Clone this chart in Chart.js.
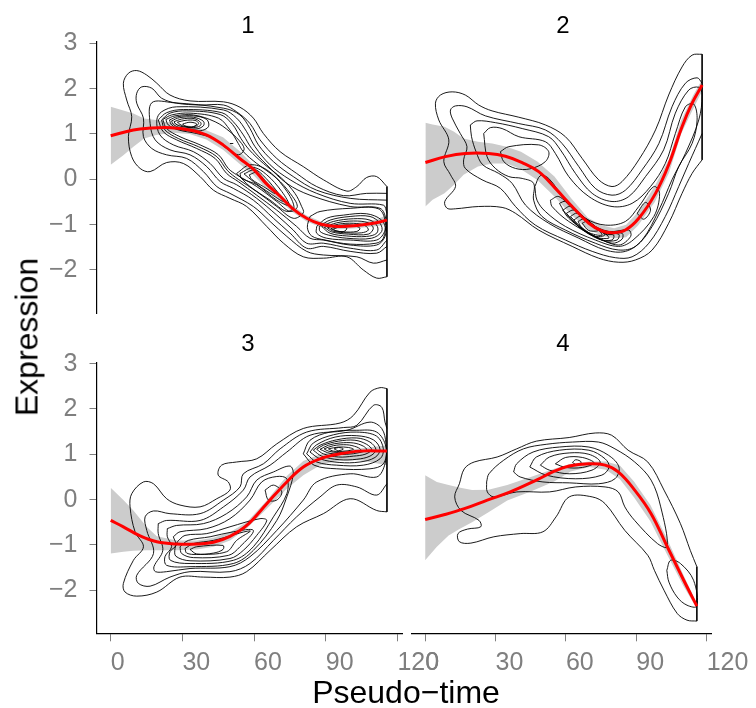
<!DOCTYPE html>
<html>
<head>
<meta charset="utf-8">
<script src="https://cdn.jsdelivr.net/npm/chart.js@4/dist/chart.umd.min.js"></script>
<style>
    html, body { margin: 0; padding: 0; background: #fff; }
    #page { position: relative; width: 756px; height: 708px; overflow: hidden; font-family: "Liberation Sans", sans-serif; }
    canvas { position: absolute; left: 0; top: 0; }
    .lbl { position: absolute; color: #000; white-space: nowrap; transform: translate(-50%, -50%); }
</style>
</head>
<body>
<div id="page">
    <canvas id="p1" width="756" height="708"></canvas>
    <canvas id="p2" width="756" height="708"></canvas>
    <canvas id="p3" width="756" height="708"></canvas>
    <canvas id="p4" width="756" height="708"></canvas>
    <div class="lbl" style="left:248px;top:25px;font-size:24px">1</div>
    <div class="lbl" style="left:563px;top:25px;font-size:24px">2</div>
    <div class="lbl" style="left:248px;top:343px;font-size:24px">3</div>
    <div class="lbl" style="left:563px;top:343px;font-size:24px">4</div>
    <div class="lbl" style="left:27px;top:337px;font-size:32px;transform:translate(-50%,-50%) rotate(-90deg)">Expression</div>
    <div class="lbl" style="left:406px;top:692px;font-size:32px">Pseudo−time</div>
</div>
<script>
const xTicks = [0, 30, 60, 90, 120];
const yTicks = [-2, -1, 0, 1, 2, 3];

// fitted curves
const curveX1 = [0, 9.5, 16.5, 25, 33, 40, 47, 54, 60, 65, 71, 76, 82, 88, 95, 103, 110, 115.6];
const curveY1 = [0.96, 1.09, 1.13, 1.14, 1.09, 0.98, 0.76, 0.46, 0.21, -0.09, -0.38, -0.64, -0.86, -0.99, -1.04, -1.02, -0.97, -0.9];
const curveX2 = [0, 8.4, 16.7, 26.5, 33.5, 40.5, 47.4, 54.4, 61.4, 68.4, 73.9, 78.8, 83.7, 89.3, 96.3, 101.8, 107.4, 111.6, 115.8];
const curveY2 = [0.37, 0.5, 0.57, 0.57, 0.51, 0.37, 0.17, -0.2, -0.6, -0.97, -1.14, -1.18, -1.12, -0.86, -0.31, 0.32, 1.16, 1.68, 2.08];
const curveX3 = [0, 5.3, 12.3, 19.3, 27.6, 36, 43, 49.9, 56.9, 65.3, 73.7, 80.6, 87.6, 96, 104.3, 115.6];
const curveY3 = [-0.46, -0.6, -0.8, -0.93, -0.98, -0.98, -0.94, -0.81, -0.57, -0.09, 0.39, 0.72, 0.9, 1.01, 1.07, 1.07];
const curveX4 = [0, 8.4, 16.7, 26.5, 36.3, 47.4, 54.4, 61.4, 69.8, 76.7, 82.3, 89.3, 96.3, 103.2, 110.2, 115.8];
const curveY4 = [-0.44, -0.33, -0.2, -0.01, 0.17, 0.43, 0.61, 0.74, 0.79, 0.76, 0.61, 0.21, -0.31, -1.04, -1.78, -2.35];

// confidence bands
const bandX1 = [0, 5.3, 9.5, 14, 19, 26, 33, 40, 47, 54, 60, 65, 71, 76, 82, 88, 95, 103, 110, 115.6];
const bandUpper1 = [1.6, 1.52, 1.45, 1.34, 1.31, 1.24, 1.18, 1.08, 0.93, 0.62, 0.3, -0.02, -0.32, -0.58, -0.8, -0.93, -1, -0.96, -0.9, -0.8];
const bandLower1 = [0.32, 0.53, 0.72, 0.9, 0.98, 1.03, 1, 0.88, 0.65, 0.34, 0.08, -0.2, -0.48, -0.72, -0.93, -1.06, -1.1, -1.08, -1.04, -1];
const bandX2 = [0, 3, 8, 12, 16, 22, 28, 34, 40, 47, 54, 61, 68, 74, 79, 84, 89, 96, 102, 107, 112, 115.8];
const bandUpper2 = [1.25, 1.21, 1.16, 1.05, 0.9, 0.83, 0.79, 0.72, 0.61, 0.39, 0.06, -0.42, -0.85, -1.02, -1.08, -1, -0.72, -0.15, 0.45, 1.3, 1.85, 2.2];
const bandLower2 = [-0.6, -0.45, -0.31, -0.12, 0.1, 0.28, 0.35, 0.35, 0.22, -0.02, -0.38, -0.78, -1.1, -1.25, -1.3, -1.28, -1.02, -0.5, 0.15, 1, 1.55, 1.95];
const bandX3 = [0, 5.3, 9.5, 15, 19.3, 27.6, 36, 43, 49.9, 56.9, 65.3, 73.7, 80.6, 87.6, 96, 104.3, 115.6];
const bandUpper3 = [0.26, -0.01, -0.24, -0.6, -0.81, -0.9, -0.9, -0.84, -0.72, -0.5, -0.02, 0.52, 0.85, 1, 1.08, 1.13, 1.2];
const bandLower3 = [-1.19, -1.15, -1.13, -1.12, -1.12, -1.12, -1.1, -1.04, -0.9, -0.64, -0.2, 0.24, 0.54, 0.76, 0.87, 0.87, 0.76];
const bandX4 = [0, 5, 10, 15, 20, 27, 35, 45, 55, 62, 70, 77, 83, 89, 96, 103, 110, 115.8];
const bandUpper4 = [0.54, 0.39, 0.32, 0.26, 0.21, 0.22, 0.32, 0.5, 0.68, 0.79, 0.84, 0.84, 0.75, 0.4, -0.12, -0.85, -1.65, -2.3];
const bandLower4 = [-1.34, -1.04, -0.79, -0.64, -0.5, -0.28, -0.02, 0.18, 0.4, 0.62, 0.72, 0.66, 0.45, 0.05, -0.48, -1.2, -1.9, -2.4];

// density contours, each one is a flat x,y,x,y list
const contours1 = [
    [5.3,2.12, 7.4,2.34, 10.9,2.4, 15.1,2.3, 19.3,2.12, 24.8,1.86, 33.2,1.73, 47.2,1.71, 54.1,1.59, 59.7,1.35, 63.9,1.01, 70.9,0.61, 80.6,0.28, 89,-0.01, 98.8,-0.26, 103,-0.16, 107.1,0.04, 111.3,0.06, 115.6,-0.16, 115.6,-2.15, 111.3,-2.18, 105.7,-2, 98.8,-1.71, 89,-1.74, 80.6,-1.71, 72.3,-1.41, 65.3,-1.04, 56.9,-0.6, 49.9,-0.42, 43,-0.24, 37.4,0.06, 30.4,0.35, 23.4,0.37, 16.5,0.17, 12.3,0.24, 8.8,0.5, 7.4,0.94, 8.8,1.38, 6.7,1.75, 5.3,2.12],
    [10.9,1.9, 13,2.04, 17.2,2.01, 21.3,1.79, 27.6,1.68, 37.4,1.64, 47.2,1.64, 52.7,1.49, 58.3,1.23, 62.5,0.87, 69.5,0.46, 77.8,0.13, 86.2,-0.16, 97.4,-0.36, 107.1,-0.31, 115.6,-0.31, 115.6,-1.78, 109.9,-1.85, 103,-1.71, 89,-1.67, 82,-1.59, 73.7,-1.26, 66.7,-0.93, 59.7,-0.6, 49.9,-0.31, 44.4,-0.16, 38.8,0.17, 31.8,0.46, 23.4,0.54, 17.2,0.68, 13.7,0.94, 13.7,1.35, 10.9,1.68, 10.9,1.9],
    [17.2,1.69, 26.2,1.69, 47.2,1.57, 54.1,1.42, 58.3,1.12, 61.8,0.76, 68.1,0.39, 76.4,0.06, 86.2,-0.24, 100.2,-0.42, 115.6,-0.46, 115.6,-1.48, 111.3,-1.63, 100.2,-1.59, 89,-1.48, 82,-1.52, 75.1,-1.19, 68.1,-0.86, 59.7,-0.46, 51.3,-0.2, 45.8,-0.05, 40.2,0.28, 33.2,0.54, 24.8,0.65, 18.6,0.87, 16.5,1.23, 17.2,1.69],
    [19.3,1.31, 21.3,1.49, 27.6,1.6, 47.2,1.53, 52.7,1.35, 56.9,1.05, 60.4,0.72, 66.7,0.32, 75.1,-0.01, 86.2,-0.31, 100.2,-0.53, 114.1,-0.57, 115.6,-0.75, 115.6,-1.34, 111.3,-1.56, 100.2,-1.52, 89,-1.41, 82,-1.41, 76.4,-1.12, 69.5,-0.79, 61.1,-0.42, 52.7,-0.12, 47.2,0.02, 41.6,0.35, 34.6,0.61, 26.2,0.76, 20.6,0.98, 19.3,1.31],
    [19.9,1.31, 23.4,1.47, 30.4,1.54, 46.5,1.47, 51.3,1.27, 55.5,0.98, 59,0.68, 65.3,0.32, 73.7,-0.09, 83.4,-0.35, 100.2,-0.6, 112.7,-0.64, 115.2,-0.9, 114.8,-1.26, 111.3,-1.45, 100.2,-1.45, 89,-1.34, 83.4,-1.3, 77.8,-1.04, 69.5,-0.68, 61.1,-0.35, 53.4,-0.05, 48.5,0.13, 43.7,0.46, 36,0.68, 27.6,0.87, 22,1.05, 19.9,1.31],
    [21.3,1.31, 24.8,1.46, 31.8,1.51, 45.8,1.43, 51,1.21, 54.5,0.9, 58,0.65, 63.9,0.35, 71.6,0.02, 77.1,-0.31, 79.9,-0.6, 80.6,-0.74, 76.4,-0.86, 69.5,-0.6, 61.1,-0.27, 53.4,0, 48.9,0.19, 44.4,0.5, 36.7,0.72, 28.3,0.9, 22.7,1.09, 21.3,1.31],
    [83.4,-0.82, 87.6,-0.71, 100.2,-0.64, 112,-0.65, 114.9,-0.93, 114.1,-1.3, 111,-1.41, 100.2,-1.43, 89.7,-1.34, 84.1,-1.25, 82.3,-1.06, 83.4,-0.82],
    [21.8,1.32, 25.5,1.42, 33.2,1.46, 45.1,1.35, 49.9,1.09, 53.4,0.79, 55.5,0.61, 61.1,0.35, 69.5,0.02, 75.1,-0.31, 78.1,-0.6, 75.1,-0.71, 69.5,-0.49, 61.1,-0.16, 52.7,0.1, 49.2,0.24, 45.1,0.54, 37.4,0.76, 29,0.94, 23.4,1.12, 21.8,1.32],
    [23.1,1.32, 26.9,1.4, 34.6,1.42, 43.7,1.27, 49.9,1.05, 54.8,0.79, 55.8,0.65, 53.4,0.54, 48.5,0.68, 43,0.9, 36,1.01, 28.3,1.09, 24.1,1.2, 23.1,1.32],
    [49.9,0.79, 51.3,0.79],
    [52.7,0.13, 58.3,0.32, 65.3,0.21, 72.3,-0.16, 76.7,-0.6, 73.7,-0.71, 66.7,-0.46, 58.3,-0.16, 52.7,0.13],
    [54.1,0.13, 59.7,0.26, 65.3,0.1, 71.6,-0.27, 74.6,-0.57, 69.5,-0.46, 61.1,-0.12, 54.8,0.02, 54.1,0.13],
    [55.8,0.12, 60.4,0.21, 65,0.02, 70.2,-0.31, 72.3,-0.49, 66.7,-0.31, 59.7,-0.05, 55.8,0.12],
    [58,0.1, 61.1,0.15, 64.6,-0.03, 68.8,-0.31, 63.9,-0.16, 59,0, 58,0.1],
    [24.6,1.31, 27.9,1.38, 34.6,1.4, 40.2,1.32, 40.9,1.16, 37.4,1.07, 29,1.1, 25.5,1.2, 24.6,1.31],
    [25.5,1.29, 28.8,1.36, 34.6,1.37, 38.8,1.28, 38.8,1.18, 35.7,1.11, 29,1.14, 26.2,1.21, 25.5,1.29],
    [26.5,1.27, 29.7,1.33, 34.9,1.34, 37.7,1.25, 37.4,1.18, 34.6,1.14, 29.3,1.17, 27.2,1.22, 26.5,1.27],
    [27.9,1.26, 31.1,1.3, 35.3,1.3, 36.8,1.23, 34.9,1.16, 30.1,1.18, 27.9,1.26],
    [30.1,1.22, 33.2,1.26, 36,1.22, 33.9,1.15, 31,1.18, 30.1,1.22],
    [86.2,-1.04, 90.4,-0.86, 97.4,-0.79, 107.1,-0.76, 113.4,-0.9, 114.8,-1.12, 111.3,-1.34, 100.2,-1.34, 90.4,-1.3, 86.2,-1.19, 86.2,-1.04],
    [87.3,-1.04, 91.8,-0.9, 100.2,-0.82, 108.5,-0.82, 112.7,-0.97, 113.4,-1.15, 109.2,-1.3, 98.8,-1.3, 91.1,-1.23, 87.6,-1.15, 87.3,-1.04],
    [88.3,-1.04, 93.2,-0.93, 101.6,-0.87, 108.5,-0.9, 111.6,-1.04, 111.3,-1.19, 107.1,-1.26, 98.8,-1.25, 91.8,-1.19, 88.3,-1.04],
    [89.4,-1.06, 94.6,-0.96, 101.6,-0.92, 107.8,-0.96, 109.9,-1.08, 107.8,-1.21, 99.5,-1.21, 92.5,-1.16, 89.4,-1.06],
    [90.7,-1.07, 95.3,-0.99, 101.6,-0.97, 106.4,-1.02, 107.8,-1.12, 105,-1.18, 98.8,-1.18, 93.5,-1.15, 90.7,-1.07],
    [92.1,-1.09, 96,-1.02, 100.9,-1.01, 104.3,-1.08, 103,-1.15, 97.4,-1.16, 93.9,-1.13, 92.1,-1.09],
    [93.2,-1.1, 96,-1.05, 98.8,-1.08, 97.6,-1.15, 94.3,-1.14, 93.2,-1.1]
];
const contours2 = [
    [4.2,1.68, 6.3,1.86, 11.2,1.93, 16.7,1.86, 22.3,1.64, 27.9,1.51, 39.1,1.37, 50.2,1.2, 58.6,0.94, 65.6,0.46, 72.5,-0.01, 78.1,-0.16, 82.3,-0.05, 89.3,0.43, 96.3,1.09, 101.8,1.86, 107.4,2.48, 111.6,2.74, 115.8,2.76, 115.8,0.43, 111.6,0.13, 107.4,-0.31, 101.8,-0.97, 94.9,-1.56, 87.9,-1.78, 80.9,-1.83, 72.5,-1.74, 61.4,-1.48, 47.4,-1.12, 37.7,-0.75, 32.1,-0.62, 22.3,-0.6, 12.6,-0.65, 9.1,-0.64, 8.1,-0.49, 12.6,-0.16, 10.5,0.1, 7.7,0.39, 9.8,0.87, 5.6,1.31, 4.2,1.68],
    [10.5,1.53, 12.6,1.62, 17.4,1.6, 25.1,1.4, 39.1,1.23, 50.2,1.09, 57.2,0.79, 64.2,0.28, 71.1,-0.2, 78.1,-0.35, 83.7,-0.24, 90.7,0.21, 97.7,0.79, 103.2,1.6, 108.8,2.12, 113.7,2.24, 115.8,2.12, 115.8,1.01, 110.2,0.35, 106,-0.16, 100.4,-0.82, 93.5,-1.41, 86.5,-1.71, 79.5,-1.73, 69.8,-1.59, 58.6,-1.34, 46,-1.01, 37.7,-0.6, 31.4,-0.2, 23.7,-0.01, 16.7,0.24, 16,0.43, 17.4,0.72, 14.6,1.01, 11.2,1.35, 10.5,1.53],
    [18.8,1.2, 21.6,1.29, 29.3,1.25, 40.5,1.12, 51.6,0.94, 56.5,0.65, 62.8,0.13, 69.8,-0.31, 78.1,-0.49, 85.1,-0.38, 92.1,0.06, 99.7,0.65, 104.6,1.46, 110.2,1.97, 114.4,2.03, 115.8,1.86, 114.4,1.31, 108.8,0.57, 103.2,-0.01, 97.7,-0.68, 90.7,-1.34, 83.7,-1.59, 75.3,-1.56, 64.2,-1.3, 51.6,-0.97, 41.9,-0.57, 36.3,-0.09, 30.7,0.13, 24,0.32, 21.2,0.61, 19.3,0.94, 18.8,1.2],
    [24.4,1.01, 27.2,1.14, 32.1,1.12, 39.1,0.94, 50.2,0.83, 54.4,0.57, 60,0.06, 68.4,-0.38, 78.1,-0.6, 86.5,-0.53, 94.2,-0.16, 100.4,0.35, 104.6,1.01, 108.8,1.6, 112.3,1.66, 113.7,1.31, 111.6,0.79, 106,0.28, 101.8,-0.31, 94.9,-1.04, 87.9,-1.48, 80.9,-1.56, 71.1,-1.41, 58.6,-1.12, 48.8,-0.82, 45.3,-0.46, 45.3,-0.09, 40.5,0.02, 34.9,0.06, 29.3,0.24, 25.8,0.5, 24.4,1.01],
    [31.4,0.61, 34.9,0.72, 47.4,0.76, 51.6,0.61, 50.2,0.39, 43.7,0.23, 37.7,0.24, 32.8,0.39, 31.4,0.61],
    [45.8,-0.16, 48.1,0.08, 51.6,0.02, 58.6,-0.46, 67,-0.86, 75.3,-1.01, 83.7,-0.93, 89.3,-0.6, 95.6,-0.16, 98,-0.31, 95.6,-0.82, 86.9,-1.34, 80.9,-1.48, 71.1,-1.34, 58.6,-1.04, 50.2,-0.71, 46.7,-0.46, 45.8,-0.16],
    [88.6,-0.75, 92.1,-0.51, 94.2,-0.68, 91.4,-0.88, 88.6,-0.75],
    [52.3,-0.46, 55.8,-0.38, 61.4,-0.64, 68.4,-0.96, 76.7,-1.15, 85.1,-1.12, 85.9,-1.26, 80.9,-1.45, 71.1,-1.26, 60,-0.93, 53,-0.6, 52.3,-0.46],
    [56.1,-0.53, 58.6,-0.49, 65.6,-0.82, 75.3,-1.18, 82.3,-1.19, 82.3,-1.32, 78.1,-1.41, 69.8,-1.23, 60,-0.86, 56.1,-0.53],
    [57.5,-0.68, 60.7,-0.6, 67,-0.86, 75.3,-1.19, 80.9,-1.21, 80.2,-1.34, 73.9,-1.34, 64.2,-1.04, 57.5,-0.68],
    [59,-0.75, 62.1,-0.68, 68.4,-0.93, 75.3,-1.21, 78.8,-1.23, 78.1,-1.34, 72.5,-1.32, 64.2,-1.04, 59,-0.75],
    [60.7,-0.82, 63.5,-0.75, 69.8,-1.01, 76,-1.23, 76.7,-1.3, 71.8,-1.28, 64.9,-1.04, 60.7,-0.82],
    [62.1,-0.9, 64.9,-0.82, 70.4,-1.04, 75,-1.23, 70.4,-1.25, 64.9,-1.08, 62.1,-0.9],
    [63.9,-0.93, 66.3,-0.88, 71.1,-1.06, 73.9,-1.23, 69,-1.19, 65.6,-1.08, 63.9,-0.93],
    [65.6,-0.97, 67.7,-0.93, 72.5,-1.12, 68.4,-1.13, 65.6,-0.97]
];
const contours3 = [
    [8.1,-0.16, 8.8,0.13, 13.7,0.39, 17.9,0.35, 23.4,0.02, 29,-0.12, 37.4,-0.16, 44.4,0.02, 49.9,0.21, 49.2,0.39, 45,0.54, 46.4,0.76, 52.7,0.83, 61.1,0.9, 69.5,1.23, 80.6,1.57, 96,1.69, 101.6,1.86, 108.5,2.37, 112.7,2.47, 115.6,2.45, 115.6,-0.27, 111.3,-0.24, 100.2,0.02, 89,-0.31, 77.8,-0.6, 66.7,-1.12, 56.9,-1.59, 49.9,-1.71, 38.8,-1.71, 29,-1.71, 19.3,-2.04, 10.9,-2.13, 6,-2.04, 5.3,-1.85, 9.5,-1.34, 13.7,-1.04, 10.2,-0.71, 8.1,-0.16],
    [14.4,-0.38, 17.9,-0.25, 24.8,-0.31, 37.4,-0.31, 47.2,-0.01, 54.1,0.28, 55.5,0.57, 63.9,0.79, 70.9,1.12, 82,1.49, 97.4,1.59, 103,1.64, 109.9,2.08, 113.4,2.04, 114.8,1.71, 115.6,1.57, 115.6,0.35, 111.3,0.1, 103,0.28, 94.6,0.32, 87.6,0.06, 77.8,-0.38, 68.1,-0.9, 58.3,-1.41, 49.9,-1.59, 33.2,-1.59, 24.8,-1.71, 16.5,-1.91, 11.6,-1.85, 10.9,-1.67, 17.9,-1.19, 15.1,-0.68, 14.4,-0.38],
    [19.9,-0.53, 23.4,-0.46, 37.4,-0.46, 47.2,-0.16, 55.5,0.21, 58.3,0.5, 66.7,0.76, 73.7,1.05, 83.4,1.42, 98.8,1.53, 108.5,1.71, 113.4,1.57, 115.2,1.23, 114.8,0.79, 111.3,0.5, 100.2,0.57, 86.2,0.39, 80.6,-0.01, 69.5,-0.68, 58.3,-1.26, 49.9,-1.48, 33.2,-1.52, 23.4,-1.59, 18.7,-1.59, 18.1,-1.48, 21.8,-1.12, 19.9,-0.75, 19.9,-0.53],
    [23.7,-0.64, 27.6,-0.57, 38.8,-0.53, 48.5,-0.31, 56.9,0.06, 61.1,0.43, 68.1,0.61, 75,0.74, 76.4,0.57, 73.7,0.06, 69.5,-0.46, 59.7,-1.12, 51.3,-1.41, 33.2,-1.48, 23.4,-1.45, 22.7,-1.26, 25.5,-1.04, 23.7,-0.82, 23.7,-0.64],
    [26.2,-0.82, 29,-0.71, 40.2,-0.64, 49.9,-0.42, 58.3,-0.01, 63.2,0.39, 69.5,0.51, 73.7,0.46, 73.7,0.13, 68.1,-0.38, 59.7,-1.04, 51.3,-1.34, 33.2,-1.41, 25,-1.34, 24.8,-1.15, 27.3,-1.01, 26.2,-0.82],
    [27.9,-0.93, 31.1,-0.79, 40.2,-0.75, 49.9,-0.6, 62.5,-0.42, 65.3,-0.46, 61.1,-0.79, 55.5,-1.12, 49.9,-1.3, 33.2,-1.35, 27.3,-1.25, 26.9,-1.08, 27.9,-0.93],
    [29,-1.04, 32.5,-0.9, 41.6,-0.82, 51.3,-0.71, 59.7,-0.68, 54.1,-1.04, 49.3,-1.23, 34.6,-1.28, 29.7,-1.19, 29,-1.04],
    [31.1,-1.08, 34.6,-0.97, 43,-0.9, 58.3,-0.69, 52.7,-0.9, 48.5,-1.15, 36,-1.21, 31.8,-1.18, 31.1,-1.08],
    [33.2,-1.1, 36,-1.04, 47,-1.01, 47,-1.1, 43,-1.18, 36,-1.2, 33.2,-1.1],
    [64.6,0.21, 68.1,0.32, 71.6,0.17, 69.5,-0.01, 66,-0.01, 64.6,0.21],
    [80.6,1.01, 83.4,1.31, 91.8,1.49, 103,1.53, 111.3,1.49, 115.2,1.16, 114.1,0.79, 108.5,0.68, 94.6,0.68, 85.1,0.76, 80.6,1.01],
    [82,1.01, 84.8,1.25, 93.2,1.43, 103,1.49, 111.3,1.4, 114.1,1.12, 112.7,0.9, 105.7,0.76, 94.6,0.76, 86.2,0.83, 82,1.01],
    [83.4,1.05, 86.2,1.21, 93.9,1.38, 103,1.41, 109.9,1.32, 112.7,1.11, 110.6,0.93, 104.3,0.83, 95.6,0.82, 87.6,0.9, 83.4,1.05],
    [84.8,1.09, 87.6,1.2, 94.6,1.32, 103,1.36, 108.5,1.27, 111,1.1, 108.5,0.96, 103,0.89, 95.6,0.88, 88.3,0.96, 84.8,1.09],
    [86.2,1.11, 89,1.2, 95.3,1.29, 102.2,1.31, 107.1,1.22, 109.2,1.1, 106.4,1, 101.6,0.96, 95.3,0.94, 89,1.01, 86.2,1.11],
    [87.6,1.11, 91.1,1.2, 96,1.25, 101.6,1.25, 105.7,1.18, 107.1,1.1, 104.3,1.04, 98.8,1, 91.8,1.02, 87.6,1.11],
    [89.3,1.12, 93.2,1.19, 98.8,1.21, 103,1.16, 104.6,1.1, 101.6,1.06, 95.3,1.04, 91.1,1.07, 89.3,1.12],
    [91.1,1.12, 95.3,1.16, 99.5,1.15, 101.6,1.11, 98.1,1.07, 93.2,1.07, 91.1,1.12],
    [93.5,1.12, 95.3,1.15, 97.4,1.12, 95.3,1.08, 93.5,1.12]
];
const contours4 = [
    [12.6,0.06, 14.6,0.35, 16.7,0.68, 20.9,0.83, 30.7,0.94, 39,1.12, 47.4,1.29, 61.4,1.37, 72.5,1.47, 79.5,1.42, 86.5,1.09, 94.9,0.83, 101.8,0.21, 108.8,-0.53, 113,-1.12, 115.8,-1.48, 115.8,-2.68, 111.6,-2.66, 107.4,-2.51, 101.8,-2, 97.7,-1.56, 94.9,-1.23, 85.1,-0.68, 76.7,-0.09, 71.2,0.06, 61.4,0.06, 55.8,-0.38, 50.2,-0.71, 40.5,-0.75, 29.3,-0.82, 19.5,-0.96, 14.6,-0.93, 14,-0.75, 18.1,-0.65, 23.7,-0.6, 23,-0.46, 15.3,-0.24, 12.6,0.06],
    [26.2,0.39, 27.2,0.57, 33.5,0.87, 41.9,1.12, 51.6,1.22, 62.8,1.27, 73.9,1.27, 80.9,1.12, 89.3,0.83, 96.3,0.43, 100.4,-0.16, 103.2,-1.04, 99,-0.97, 89.3,-0.46, 85.1,-0.16, 82.3,0.17, 76.7,0.28, 64.2,0.28, 53,0.17, 39.1,0.17, 29.3,0.06, 26.5,0.17, 26.2,0.39],
    [37.7,0.61, 39,0.79, 46,1.05, 57.2,1.16, 69.8,1.16, 78.1,0.98, 82.6,0.72, 80.9,0.46, 73.9,0.35, 61.4,0.37, 50.2,0.39, 40.5,0.5, 37.7,0.61],
    [44.6,0.72, 47.4,0.94, 57.2,1.09, 69.8,1.09, 76.7,0.9, 78.4,0.72, 75.3,0.54, 64.2,0.46, 51.6,0.54, 44.6,0.72],
    [49.1,0.76, 53,0.94, 61.4,1.03, 69.8,1, 74.6,0.83, 71.1,0.65, 61.4,0.57, 53,0.65, 49.1,0.76],
    [55.5,0.79, 59.9,0.93, 67,0.93, 72,0.81, 67,0.71, 59.9,0.71, 55.5,0.79],
    [62.8,0.82, 64.2,0.88, 66.5,0.83, 64.9,0.76, 62.8,0.82],
    [103,-1.56, 104.6,-1.34, 108.8,-1.41, 114.4,-1.78, 115.8,-2.35, 111.6,-2.33, 107.4,-2.15, 103.9,-1.82, 103,-1.56]
];

const GRAY = '#7f7f7f';
const tickFont = { family: '"Liberation Sans", sans-serif', size: 25 };

const toPoints = (xs, ys) => xs.map((x, i) => ({ x: x, y: ys[i] }));

const flatToPoints = (flat) => {
    const pts = [];
    for (let i = 0; i < flat.length; i += 2) pts.push({ x: flat[i], y: flat[i + 1] });
    return pts;
};

// a contour that runs into the right data edge is cut there, the edge itself is a straight line
const splitAtEdge = (pts) => {
    for (let i = 0; i < pts.length - 1; i++) {
        if (pts[i].x >= 115 && pts[i].x === pts[i + 1].x) {
            return {
                curve: pts.slice(i + 1, pts.length - 1).concat(pts.slice(0, i + 1)),
                edge: [pts[i], pts[i + 1]]
            };
        }
    }
    return { curve: pts, edge: null };
};

function drawPanel(id, box, showX, showY, curveX, curveY, bandX, bandUpper, bandLower, contours) {

    // datasets paint last index first, so the red curve goes first
    const datasets = [{
        data: toPoints(curveX, curveY),
        showLine: true, borderColor: '#ff0000', borderWidth: 3, pointRadius: 0, tension: 0.4, fill: false
    }];

    contours.forEach((c, n) => {
        const parts = splitAtEdge(flatToPoints(c));
        datasets.push({
            data: parts.curve,
            showLine: true, borderColor: '#000000', borderWidth: 0.9, pointRadius: 0, tension: 0.35, fill: false
        });
        // inner contours share the outer one's edge, drawing it once keeps it thin
        if (parts.edge && n === 0) {
            datasets.push({
                data: parts.edge,
                showLine: true, borderColor: '#000000', borderWidth: 0.9, pointRadius: 0, tension: 0, fill: false
            });
        }
    });

    datasets.push({
        data: toPoints(bandX, bandUpper),
        showLine: true, borderWidth: 0, borderColor: 'rgba(0,0,0,0)', pointRadius: 0,
        backgroundColor: '#cccccc', fill: '+1'
    });
    datasets.push({
        data: toPoints(bandX, bandLower),
        showLine: true, borderWidth: 0, borderColor: 'rgba(0,0,0,0)', pointRadius: 0, fill: false
    });

    const yW = showY ? 60 : 0;
    const xH = showX ? 70 : 0;

    new Chart(document.getElementById(id).getContext('2d'), {
        type: 'scatter',
        data: { datasets: datasets },
        options: {
            responsive: false,
            animation: false,
            events: [],
            layout: {
                autoPadding: false,
                padding: { left: box.left - yW, right: 756 - box.right, top: box.top, bottom: 708 - box.bottom - xH }
            },
            plugins: { legend: { display: false }, tooltip: { enabled: false } },
            scales: {
                x: {
                    type: 'linear',
                    display: showX,
                    min: -5.94,
                    max: 121.9,
                    afterBuildTicks: s => { s.ticks = xTicks.map(v => ({ value: v })); },
                    afterFit: s => { s.height = xH; },
                    border: { display: true, color: '#000', width: 1.2 },
                    grid: { drawOnChartArea: false, color: GRAY, tickLength: 8, tickWidth: 1 },
                    ticks: {
                        color: GRAY, font: tickFont, padding: 7, align: 'start',
                        maxRotation: 0, autoSkip: false,
                        callback: v => String(v)
                    }
                },
                y: {
                    type: 'linear',
                    display: showY,
                    min: -2.95,
                    max: 3.03,
                    afterBuildTicks: s => { s.ticks = yTicks.map(v => ({ value: v })); },
                    afterFit: s => { s.width = yW; },
                    border: { display: true, color: '#000', width: 1.2 },
                    grid: { drawOnChartArea: false, color: GRAY, tickLength: 7, tickWidth: 1 },
                    ticks: {
                        color: GRAY, font: tickFont, padding: 12, autoSkip: false,
                        callback: v => String(v).replace('-', '\u2212')
                    }
                }
            }
        }
    });
}

drawPanel('p1', { left: 96.5, right: 402, top: 42, bottom: 313 }, false, true, curveX1, curveY1, bandX1, bandUpper1, bandLower1, contours1);
drawPanel('p2', { left: 411.2, right: 716.7, top: 42, bottom: 313 }, false, false, curveX2, curveY2, bandX2, bandUpper2, bandLower2, contours2);
drawPanel('p3', { left: 96.5, right: 402, top: 362.3, bottom: 633.3 }, true, true, curveX3, curveY3, bandX3, bandUpper3, bandLower3, contours3);
drawPanel('p4', { left: 411.2, right: 716.7, top: 362.3, bottom: 633.3 }, true, false, curveX4, curveY4, bandX4, bandUpper4, bandLower4, contours4);
</script>
</body>
</html>
